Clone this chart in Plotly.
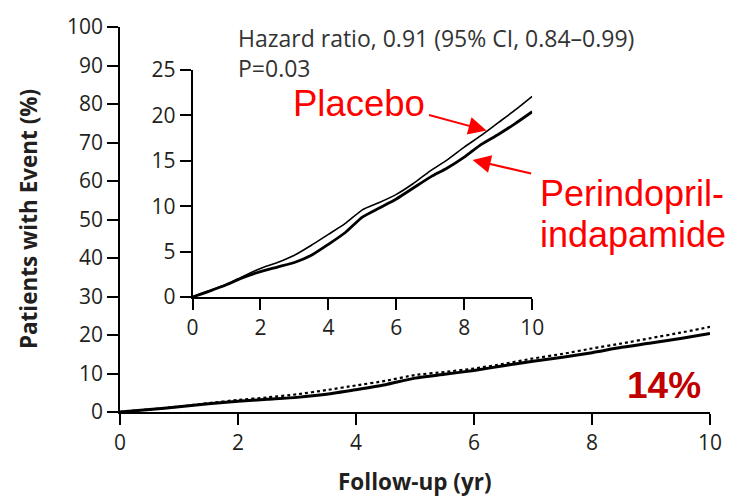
import plotly.graph_objects as go

# Cumulative incidence (%) by follow-up year
years = [0, 0.5, 1, 1.5, 2, 2.5, 3, 3.5, 4, 4.5, 5, 5.5, 6, 6.5, 7, 7.5, 8, 8.5, 9, 9.5, 10]
placebo = [0, 0.7, 1.4, 2.3, 3.15, 3.8, 4.6, 5.7, 6.9, 8.1, 9.6, 10.4, 11.3, 12.5, 13.9, 15.1, 16.5, 17.8, 19.2, 20.6, 22.1]
perindopril = [0, 0.65, 1.35, 2.15, 2.8, 3.3, 3.8, 4.6, 5.8, 7.1, 8.8, 9.8, 10.8, 12.0, 13.2, 14.2, 15.4, 16.8, 17.9, 19.1, 20.4]

main_x_ticks = [0, 2, 4, 6, 8, 10]
main_y_ticks = [0, 10, 20, 30, 40, 50, 60, 70, 80, 90, 100]
inset_x_ticks = [0, 2, 4, 6, 8, 10]
inset_y_ticks = [0, 5, 10, 15, 20, 25]

hazard_text = "Hazard ratio, 0.91 (95% CI, 0.84\u20130.99)"
p_text = "P=0.03"
reduction_text = "14%"

W, H = 734, 500
ML, MR, MT, MB = 120, 20, 18, 88
PW, PH = W - ML - MR, H - MT - MB


def px_x(px):
    return (px - ML) / PW


def px_y(py):
    return (H - MB - py) / PH


tick_font = dict(family="Open Sans", size=21, color="#231f20")
ink = "#231f20"

fig = go.Figure()

# main panel
fig.add_trace(go.Scatter(x=years, y=perindopril, mode="lines",
                         line=dict(color="black", width=3, shape="spline", smoothing=0.6),
                         xaxis="x", yaxis="y", showlegend=False, hoverinfo="skip"))
fig.add_trace(go.Scatter(x=years, y=placebo, mode="lines",
                         line=dict(color="black", width=2.2, dash="dot", shape="spline", smoothing=0.6),
                         xaxis="x", yaxis="y", showlegend=False, hoverinfo="skip"))

# inset panel (magnified 0-25%)
fig.add_trace(go.Scatter(x=years, y=placebo, mode="lines",
                         line=dict(color="black", width=1.6, shape="spline", smoothing=0.6),
                         xaxis="x2", yaxis="y2", showlegend=False, hoverinfo="skip"))
fig.add_trace(go.Scatter(x=years, y=perindopril, mode="lines",
                         line=dict(color="black", width=2.8, shape="spline", smoothing=0.6),
                         xaxis="x2", yaxis="y2", showlegend=False, hoverinfo="skip"))

axis_common = dict(showgrid=False, zeroline=False, showline=True, linecolor="black",
                   linewidth=1.5, ticks="outside", ticklen=11, tickwidth=1.5,
                   tickcolor="black", tickfont=tick_font, fixedrange=True)

inset_x0, inset_x1 = px_x(193), px_x(535)
inset_y0, inset_y1 = px_y(294.3), px_y(62)

fig.update_layout(
    width=W, height=H,
    margin=dict(l=ML, r=MR, t=MT, b=MB),
    paper_bgcolor="white", plot_bgcolor="rgba(0,0,0,0)",
    xaxis=dict(range=[0, 10], tickvals=main_x_ticks, domain=[0, 1], anchor="y", **axis_common),
    yaxis=dict(range=[0, 100], tickvals=main_y_ticks, domain=[0, 1], anchor="x", **axis_common),
    xaxis2=dict(range=[0, 10], tickvals=inset_x_ticks, domain=[inset_x0, inset_x1],
                anchor="y2", **axis_common),
    yaxis2=dict(range=[0, 25], tickvals=inset_y_ticks, domain=[inset_y0, inset_y1],
                anchor="x2", **axis_common),
)

annotations = [
    dict(text="<b>Follow-up (yr)</b>", xref="paper", yref="paper",
         x=px_x(417), y=px_y(483), xanchor="center", yanchor="middle", showarrow=False,
         font=dict(family="Open Sans", size=22.5, color=ink)),
    dict(text="<b>Patients with Event (%)</b>", xref="paper", yref="paper",
         x=px_x(28), y=px_y(215), xanchor="center", yanchor="middle", showarrow=False,
         textangle=-90, font=dict(family="Open Sans", size=22.5, color=ink)),
    dict(text=hazard_text + "<br>" + p_text, xref="paper", yref="paper",
         x=px_x(237), y=px_y(45), xanchor="left", yanchor="middle", align="left",
         showarrow=False, font=dict(family="Open Sans", size=23, color="#333333")),
    dict(text="Placebo", xref="paper", yref="paper",
         x=px_x(292), y=px_y(96), xanchor="left", yanchor="middle", showarrow=False,
         font=dict(family="Liberation Sans", size=36.5, color="#ff0000")),
    dict(text="Perindopril-", xref="paper", yref="paper",
         x=px_x(541), y=px_y(188), xanchor="left", yanchor="middle", showarrow=False,
         font=dict(family="Liberation Sans", size=36, color="#ff0000")),
    dict(text="indapamide", xref="paper", yref="paper",
         x=px_x(541), y=px_y(230), xanchor="left", yanchor="middle", showarrow=False,
         font=dict(family="Liberation Sans", size=36, color="#ff0000")),
    dict(text="<b>" + reduction_text + "</b>", xref="paper", yref="paper",
         x=px_x(668), y=px_y(385), xanchor="center", yanchor="middle", showarrow=False,
         font=dict(family="Liberation Sans", size=37, color="#c00000")),
    # arrows pointing at each curve
    dict(text="", xref="paper", yref="paper", x=px_x(489), y=px_y(124),
         ax=-59, ay=-16, axref="pixel", ayref="pixel", showarrow=True,
         arrowhead=2, arrowsize=1.8, arrowwidth=2, arrowcolor="#ff0000", standoff=0),
    dict(text="", xref="paper", yref="paper", x=px_x(475), y=px_y(154),
         ax=60, ay=14, axref="pixel", ayref="pixel", showarrow=True,
         arrowhead=2, arrowsize=1.8, arrowwidth=2, arrowcolor="#ff0000", standoff=0),
]
fig.update_layout(annotations=annotations)

fig.write_html("out.html")
